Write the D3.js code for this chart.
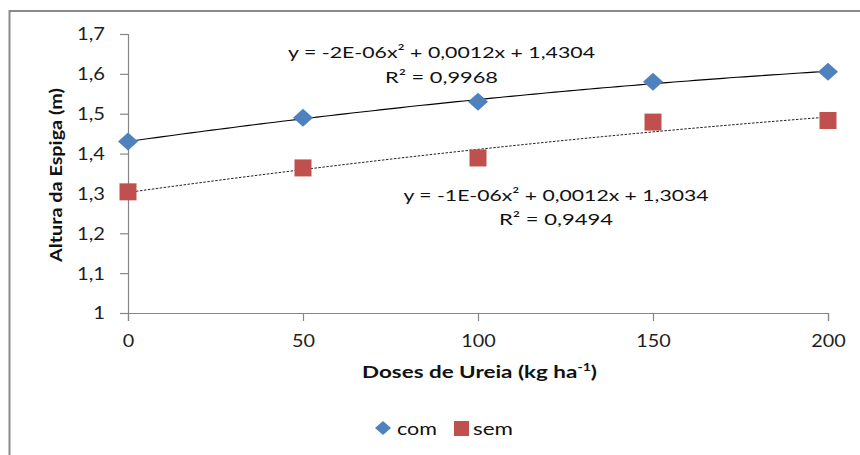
<!DOCTYPE html>
<html><head><meta charset="utf-8">
<script src="https://cdn.jsdelivr.net/npm/d3@7"></script>
<style>
html,body{margin:0;padding:0;background:#fff;}
svg{display:block;font-family:Lato,"Open Sans",sans-serif;}
</style></head>
<body>
<svg id="chart" width="860" height="455"></svg>
<script>
// ---- data ----
const doses = [0, 50, 100, 150, 200];
const comValues = [1.43, 1.49, 1.53, 1.58, 1.605];
const semValues = [1.304, 1.364, 1.389, 1.479, 1.483];
const seriesNames = ["com", "sem"];
const xTicks = [0, 50, 100, 150, 200];
const yTicks = [1, 1.1, 1.2, 1.3, 1.4, 1.5, 1.6, 1.7];
const eqCom = ["y = -2E-06x\u00B2 + 0,0012x + 1,4304", "R\u00B2 = 0,9968"];
const eqSem = ["y = -1E-06x\u00B2 + 0,0012x + 1,3034", "R\u00B2 = 0,9494"];
const xTitle = "Doses de Ureia (kg ha";
const xTitleSup = "-1";
const yTitle = "Altura da Espiga (m)";

const svg = d3.select("#chart");
const loc = d3.formatLocale({decimal: ",", thousands: ".", grouping: [3], currency: ["", ""]});
const fmt = loc.format(".1~f");

const x = d3.scaleLinear().domain([0, 200]).range([128, 828]);
const y = d3.scaleLinear().domain([1, 1.7]).range([313, 34]);

function stretch(sel, k) {
  sel.each(function () {
    const w = this.getComputedTextLength();
    this.setAttribute("textLength", w * k);
    this.setAttribute("lengthAdjust", "spacingAndGlyphs");
  });
}
function fitTo(sel, len) {
  sel.attr("textLength", len).attr("lengthAdjust", "spacingAndGlyphs");
}

// outer frame
svg.append("rect").attr("x", 9.5).attr("y", 11).attr("width", 870).attr("height", 470)
  .attr("fill", "none").attr("stroke", "#8a8a8a").attr("stroke-width", 2);

// axes
const gy = svg.append("g").attr("transform", "translate(128,0)")
  .call(d3.axisLeft(y).tickValues(yTicks).tickFormat(fmt).tickSizeOuter(0).tickSize(8).tickPadding(15));
const gx = svg.append("g").attr("transform", "translate(0,313)")
  .call(d3.axisBottom(x).tickValues(xTicks).tickFormat(d => d).tickSizeOuter(0).tickSize(8).tickPadding(14));
[gx, gy].forEach(g => {
  g.select(".domain").attr("stroke", "#868686").attr("stroke-width", 1.2);
  g.selectAll(".tick line").attr("stroke", "#868686").attr("stroke-width", 1.2);
  g.selectAll(".tick text").attr("fill", "#1e1e1e").attr("font-size", 16.5).attr("font-family", "Lato");
});
gy.selectAll(".tick text").attr("dy", "0.36em");
stretch(gx.selectAll(".tick text"), 1.2);
stretch(gy.selectAll(".tick text"), 1.22);

// quadratic least squares fit
function quadFit(xs, ys) {
  let S = [[0,0,0],[0,0,0],[0,0,0]], B = [0,0,0];
  xs.forEach((xi, i) => {
    const p = [1, xi, xi*xi];
    for (let r = 0; r < 3; r++) { B[r] += p[r]*ys[i]; for (let c = 0; c < 3; c++) S[r][c] += p[r]*p[c]; }
  });
  const M = S.map((row, i) => row.concat([B[i]]));
  for (let i = 0; i < 3; i++) {
    for (let j = i+1; j < 3; j++) {
      const f = M[j][i]/M[i][i];
      for (let k = i; k < 4; k++) M[j][k] -= f*M[i][k];
    }
  }
  const c = [0,0,0];
  for (let i = 2; i >= 0; i--) {
    let s = M[i][3];
    for (let k = i+1; k < 3; k++) s -= M[i][k]*c[k];
    c[i] = s/M[i][i];
  }
  return t => c[0] + c[1]*t + c[2]*t*t;
}
const fCom = quadFit(doses, comValues);
const fSem = quadFit(doses, semValues);
const xs = d3.range(0, 200.001, 2);
const line = f => d3.line().x(d => x(d)).y(d => y(f(d)))(xs);

svg.append("path").attr("d", line(fCom)).attr("fill", "none").attr("stroke", "#000").attr("stroke-width", 1.1);
svg.append("path").attr("d", line(fSem)).attr("fill", "none").attr("stroke", "#222").attr("stroke-width", 1)
  .attr("stroke-dasharray", "2.5,1.5");

// markers
const diamond = (cx, cy, w, h) => `M${cx},${cy-h/2}L${cx+w/2},${cy}L${cx},${cy+h/2}L${cx-w/2},${cy}Z`;
svg.append("g").selectAll("path").data(doses).join("path")
  .attr("d", (d, i) => diamond(x(d), y(comValues[i]), 20, 18))
  .attr("fill", "#4F81BD");
svg.append("g").selectAll("rect").data(doses).join("rect")
  .attr("x", d => x(d) - 8.5).attr("y", (d, i) => y(semValues[i]) - 8.5)
  .attr("width", 17).attr("height", 17).attr("fill", "#C0504D");

// equations
function eq(lines, cx, by1, w1, by2, w2) {
  const t1 = svg.append("text").attr("x", cx).attr("y", by1).attr("text-anchor", "middle")
    .attr("font-size", 16).attr("fill", "#111").text(lines[0]);
  fitTo(t1, w1);
  const t2 = svg.append("text").attr("x", cx).attr("y", by2).attr("text-anchor", "middle")
    .attr("font-size", 16).attr("fill", "#111").text(lines[1]);
  fitTo(t2, w2);
}
eq(eqCom, 441.5, 58, 307, 83, 113);
eq(eqSem, 556, 201, 305, 224.5, 114);

// axis titles
const xt = svg.append("text").attr("x", 362).attr("y", 378).attr("font-size", 17.5)
  .attr("font-weight", "bold").attr("fill", "#111");
xt.append("tspan").text(xTitle);
xt.append("tspan").attr("font-size", 11).attr("dy", -7).text(xTitleSup);
xt.append("tspan").attr("dy", 7).text(")");
xt.attr("textLength", 235).attr("lengthAdjust", "spacingAndGlyphs");

const yt = svg.append("text").attr("transform", "translate(62,175) rotate(-90)")
  .attr("text-anchor", "middle").attr("font-size", 17.5).attr("font-weight", "bold")
  .attr("fill", "#111").text(yTitle);
fitTo(yt, 174);

// legend
const lg = svg.append("g");
lg.append("path").attr("d", diamond(383, 428, 16, 14)).attr("fill", "#4F81BD");
fitTo(lg.append("text").attr("x", 397).attr("y", 435).attr("font-size", 17).attr("fill", "#111").text(seriesNames[0]), 40);
lg.append("rect").attr("x", 454).attr("y", 421).attr("width", 15).attr("height", 15).attr("fill", "#C0504D");
fitTo(lg.append("text").attr("x", 473).attr("y", 435).attr("font-size", 17).attr("fill", "#111").text(seriesNames[1]), 40);
</script>
</body></html>
